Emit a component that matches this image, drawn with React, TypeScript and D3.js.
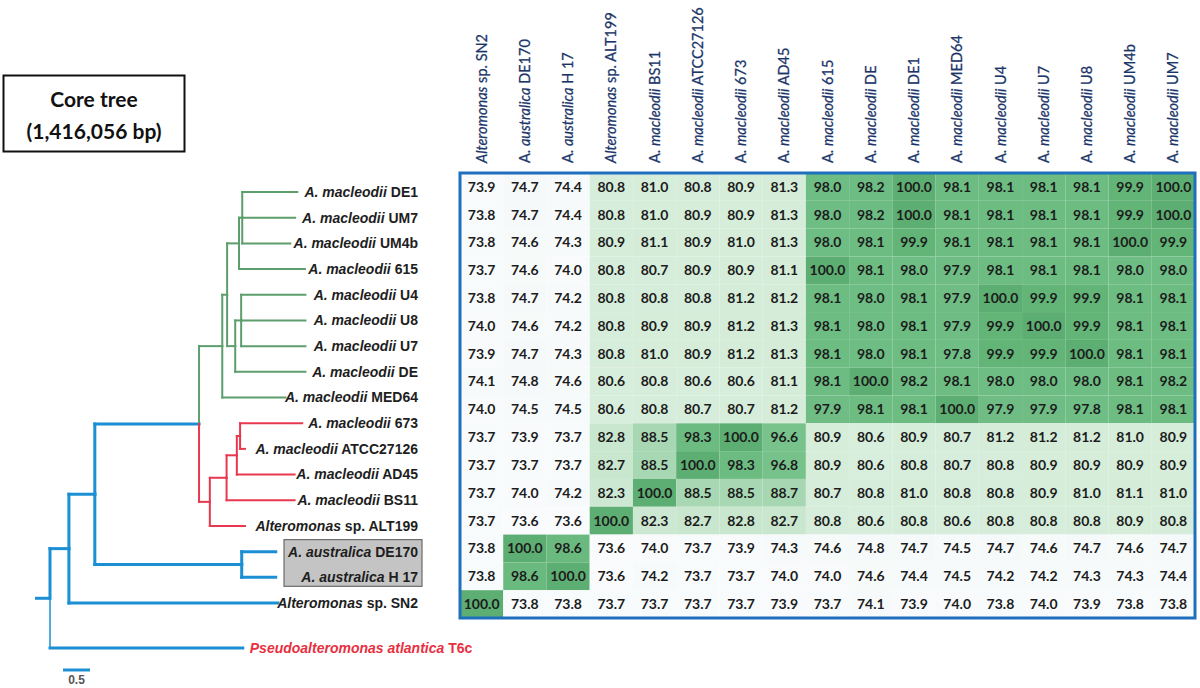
import React from "react";
import * as d3 from "d3";

// ---------- DATA ----------
const colNames = [
  "Alteromonas sp. SN2", "A. australica DE170", "A. australica H 17", "Alteromonas sp. ALT199",
  "A. macleodii BS11", "A. macleodii ATCC27126", "A. macleodii 673", "A. macleodii AD45",
  "A. macleodii 615", "A. macleodii DE", "A. macleodii DE1", "A. macleodii MED64",
  "A. macleodii U4", "A. macleodii U7", "A. macleodii U8", "A. macleodii UM4b", "A. macleodii UM7",
];

const rowNames = [
  "DE1", "UM7", "UM4b", "615", "U4", "U8", "U7", "DE", "MED64",
  "673", "ATCC27126", "BS11", "ALT199", "DE170", "H 17", "SN2",
];

const rowDE1 = [73.9, 74.7, 74.4, 80.8, 81.0, 80.8, 80.9, 81.3, 98.0, 98.2, 100.0, 98.1, 98.1, 98.1, 98.1, 99.9, 100.0];
const rowUM7 = [73.8, 74.7, 74.4, 80.8, 81.0, 80.9, 80.9, 81.3, 98.0, 98.2, 100.0, 98.1, 98.1, 98.1, 98.1, 99.9, 100.0];
const rowUM4b = [73.8, 74.6, 74.3, 80.9, 81.1, 80.9, 81.0, 81.3, 98.0, 98.1, 99.9, 98.1, 98.1, 98.1, 98.1, 100.0, 99.9];
const row615 = [73.7, 74.6, 74.0, 80.8, 80.7, 80.9, 80.9, 81.1, 100.0, 98.1, 98.0, 97.9, 98.1, 98.1, 98.1, 98.0, 98.0];
const rowU4 = [73.8, 74.7, 74.2, 80.8, 80.8, 80.8, 81.2, 81.2, 98.1, 98.0, 98.1, 97.9, 100.0, 99.9, 99.9, 98.1, 98.1];
const rowU8 = [74.0, 74.6, 74.2, 80.8, 80.9, 80.9, 81.2, 81.3, 98.1, 98.0, 98.1, 97.9, 99.9, 100.0, 99.9, 98.1, 98.1];
const rowU7 = [73.9, 74.7, 74.3, 80.8, 81.0, 80.9, 81.2, 81.3, 98.1, 98.0, 98.1, 97.8, 99.9, 99.9, 100.0, 98.1, 98.1];
const rowDE = [74.1, 74.8, 74.6, 80.6, 80.8, 80.6, 80.6, 81.1, 98.1, 100.0, 98.2, 98.1, 98.0, 98.0, 98.0, 98.1, 98.2];
const rowMED64 = [74.0, 74.5, 74.5, 80.6, 80.8, 80.7, 80.7, 81.2, 97.9, 98.1, 98.1, 100.0, 97.9, 97.9, 97.8, 98.1, 98.1];
const row673 = [73.7, 73.9, 73.7, 82.8, 88.5, 98.3, 100.0, 96.6, 80.9, 80.6, 80.9, 80.7, 81.2, 81.2, 81.2, 81.0, 80.9];
const rowATCC = [73.7, 73.7, 73.7, 82.7, 88.5, 100.0, 98.3, 96.8, 80.9, 80.6, 80.8, 80.7, 80.8, 80.9, 80.9, 80.9, 80.9];
const rowBS11 = [73.7, 74.0, 74.2, 82.3, 100.0, 88.5, 88.5, 88.7, 80.7, 80.8, 81.0, 80.8, 80.8, 80.9, 81.0, 81.1, 81.0];
const rowALT199 = [73.7, 73.6, 73.6, 100.0, 82.3, 82.7, 82.8, 82.7, 80.8, 80.6, 80.8, 80.6, 80.8, 80.8, 80.8, 80.9, 80.8];
const rowDE170 = [73.8, 100.0, 98.6, 73.6, 74.0, 73.7, 73.9, 74.3, 74.6, 74.8, 74.7, 74.5, 74.7, 74.6, 74.7, 74.6, 74.7];
const rowH17 = [73.8, 98.6, 100.0, 73.6, 74.2, 73.7, 73.7, 74.0, 74.0, 74.6, 74.4, 74.5, 74.2, 74.2, 74.3, 74.3, 74.4];
const rowSN2 = [100.0, 73.8, 73.8, 73.7, 73.7, 73.7, 73.7, 73.9, 73.7, 74.1, 73.9, 74.0, 73.8, 74.0, 73.9, 73.8, 73.8];

const matrix = [rowDE1, rowUM7, rowUM4b, row615, rowU4, rowU8, rowU7, rowDE, rowMED64,
  row673, rowATCC, rowBS11, rowALT199, rowDE170, rowH17, rowSN2];

// tree with branch lengths (substitutions per site, scale bar 0.5)
type TNode = { name: string; len: number; clade?: string; children?: TNode[] };
const treeData: TNode = {
  name: "root", len: 0, children: [
    {
      name: "X", len: 0.35, children: [
        {
          name: "Y", len: 0.48, children: [
            {
              name: "Z", len: 1.93, children: [
                {
                  name: "G", len: 0.43, clade: "green", children: [
                    {
                      name: "G2", len: 0.09, children: [
                        {
                          name: "n2", len: 0.22, children: [
                            {
                              name: "n1", len: 0.06, children: [
                                { name: "A. macleodii DE1", len: 1.02 },
                                { name: "A. macleodii UM7", len: 0.98 },
                                { name: "A. macleodii UM4b", len: 0.89 },
                              ]
                            },
                            { name: "A. macleodii 615", len: 1.22 },
                          ]
                        },
                        {
                          name: "U1", len: 0.15, children: [
                            {
                              name: "U2", len: 0.11, children: [
                                { name: "A. macleodii U4", len: 1.19 },
                                { name: "A. macleodii U8", len: 1.19 },
                                { name: "A. macleodii U7", len: 1.19 },
                              ]
                            },
                            { name: "A. macleodii DE", len: 1.3 },
                          ]
                        },
                      ]
                    },
                    { name: "A. macleodii MED64", len: 1.17 },
                  ]
                },
                {
                  name: "R", len: 0.2, clade: "red", children: [
                    {
                      name: "R2", len: 0.31, children: [
                        {
                          name: "R3", len: 0.19, children: [
                            {
                              name: "R4", len: 0.06, children: [
                                { name: "A. macleodii 673", len: 1.15 },
                                { name: "A. macleodii ATCC27126", len: 0.09 },
                              ]
                            },
                            { name: "A. macleodii AD45", len: 1.07 },
                          ]
                        },
                        { name: "A. macleodii BS11", len: 1.26 },
                      ]
                    },
                    { name: "Alteromonas sp. ALT199", len: 0.65 },
                  ]
                },
              ]
            },
            {
              name: "Aus", len: 2.72, children: [
                { name: "A. australica DE170", len: 0.63 },
                { name: "A. australica H 17", len: 0.63 },
              ]
            },
          ]
        },
        { name: "Alteromonas sp. SN2", len: 3.87 },
      ]
    },
    { name: "Pseudoalteromonas atlantica T6c", len: 3.57, clade: "outgroup" },
  ]
};

const boxedLeaves = ["A. australica DE170", "A. australica H 17"];
const scaleBarValue = 0.5;
const titleLines = ["Core tree", "(1,416,056 bp)"];

// ---------- LAYOUT / STYLE ----------
const W = 1200, H = 688;
const heat = { x0: 460, x1: 1195, y0: 173, y1: 618 };
const treeX0 = 50, pxPerUnit = 54;
const leafY0 = 192, leafY1 = 603;
const labelRight = 418;
const cladeColor: Record<string, string> = { blue: "#1a8fd4", green: "#5c9e6c", red: "#e8384f", outgroup: "#1a8fd4" };
const cladeWidth: Record<string, number> = { blue: 3, green: 2, red: 2, outgroup: 3 };

function splitTreeName(n: string): [string, string] {
  if (n.startsWith("Alteromonas sp.")) return ["Alteromonas", n.slice(11)];
  const parts = n.split(" ");
  return [parts[0] + " " + parts[1], " " + parts.slice(2).join(" ")];
}
function splitHeaderName(n: string): [string, string, string] {
  if (n.startsWith("Alteromonas sp.")) return ["", "Alteromonas", n.slice(11)];
  const parts = n.split(" ");
  return [parts[0] + " ", parts[1], " " + parts.slice(2).join(" ")];
}

export default function App() {
  const xBand = d3.scaleBand<string>().domain(colNames).range([heat.x0, heat.x1]);
  const yBand = d3.scaleBand<string>().domain(rowNames).range([heat.y0, heat.y1]);
  const color = d3.scaleLinear<string>()
    .domain([73.5, 75, 80.5, 81.5, 83, 88.5, 96.5, 98, 99.9, 100])
    .range(["#f9fbfd", "#f5f9f8", "#d8eedc", "#d3ebd7", "#c7e5cd", "#a8d8b3", "#79c38d", "#6ebd84", "#62b477", "#5dae72"])
    .clamp(true);

  // tree layout
  const root = d3.hierarchy<TNode>(treeData, (d) => d.children);
  root.each((n: any) => {
    n.dist = n.parent ? n.parent.dist + n.data.len : 0;
    n.clade = n.data.clade || (n.parent ? n.parent.clade : "blue");
  });
  const leaves = root.leaves();
  const ty = d3.scaleLinear().domain([0, 16]).range([leafY0, leafY1]);
  const tx = d3.scaleLinear().domain([0, 1]).range([treeX0, treeX0 + pxPerUnit]);
  leaves.forEach((l: any, i: number) => {
    l.y = l.data.clade === "outgroup" ? ty(17.75) : ty(i);
  });
  root.eachAfter((n: any) => {
    if (n.children) n.y = (n.children[0].y + n.children[n.children.length - 1].y) / 2;
  });

  const segs: { x1: number; y1: number; x2: number; y2: number; c: string }[] = [];
  root.each((n: any) => {
    if (!n.parent) return;
    const px = tx(n.parent.dist);
    segs.push({ x1: px, y1: n.y, x2: tx(n.dist), y2: n.y, c: n.clade });
    segs.push({ x1: px, y1: n.parent.y, x2: px, y2: n.y, c: n.clade });
  });

  const rootAny: any = root;
  const boxed = leaves.filter((l: any) => boxedLeaves.includes(l.data.name)) as any[];

  return (
    <svg width={W} height={H} style={{ position: "absolute", left: 0, top: 0, background: "#fff" }}>
      {/* title box */}
      <rect x={3.5} y={75.5} width={181} height={76} fill="#fff" stroke="#111" strokeWidth={2} />
      {titleLines.map((t, i) => (
        <text key={t} x={94} y={107 + i * 32} textAnchor="middle" fontFamily="Lato, sans-serif"
          fontWeight={700} fontSize={21} fill="#111">{t}</text>
      ))}

      {/* tree */}
      <line x1={tx(0) - 15} x2={tx(0)} y1={rootAny.y} y2={rootAny.y} stroke={cladeColor.blue} strokeWidth={3} />
      {segs.map((s, i) => (
        <line key={i} x1={s.x1} y1={s.y1} x2={s.x2} y2={s.y2} stroke={cladeColor[s.c]}
          strokeWidth={s.x1 === s.x2 && s.c === "outgroup" ? 1.5 : cladeWidth[s.c]} strokeLinecap="square" />
      ))}
      {boxed.length > 0 && (
        <rect x={284} y={boxed[0].y - 12} width={138} height={boxed[boxed.length - 1].y - boxed[0].y + 21}
          fill="#c4c4c4" stroke="#6a6a6a" strokeWidth={1.2} />
      )}
      {leaves.map((l: any) => {
        const [it, rest] = splitTreeName(l.data.name);
        const out = l.data.clade === "outgroup";
        return (
          <text key={l.data.name} x={out ? tx(l.dist) + 7 : labelRight} y={l.y} dy="0.35em"
            textAnchor={out ? "start" : "end"} fontFamily="'Liberation Sans', Arial, sans-serif"
            fontWeight={700} fontSize={14} fill={out ? "#e8303f" : "#1e1e1e"}>
            <tspan fontStyle="italic">{it}</tspan>
            <tspan>{rest}</tspan>
          </text>
        );
      })}
      {/* scale bar */}
      <line x1={63} x2={63 + pxPerUnit * scaleBarValue} y1={670} y2={670} stroke={cladeColor.blue} strokeWidth={3} />
      <text x={63 + (pxPerUnit * scaleBarValue) / 2} y={684} textAnchor="middle"
        fontFamily="'Liberation Sans', Arial, sans-serif" fontWeight={700} fontSize={12} fill="#555">{scaleBarValue}</text>

      {/* heatmap */}
      {matrix.map((row, ri) =>
        row.map((v, ci) => (
          <rect key={`${ri}-${ci}`} x={xBand(colNames[ci])} y={yBand(rowNames[ri])}
            width={xBand.bandwidth()} height={yBand.bandwidth()} fill={color(v)} />
        ))
      )}
      {matrix.map((row, ri) =>
        row.map((v, ci) => (
          <text key={`t${ri}-${ci}`} x={(xBand(colNames[ci]) as number) + xBand.bandwidth() / 2}
            y={(yBand(rowNames[ri]) as number) + yBand.bandwidth() / 2} dy="0.35em" textAnchor="middle"
            fontFamily="Lato, sans-serif" fontWeight={700} fontSize={14} fill="#1c1c1c">{v.toFixed(1)}</text>
        ))
      )}
      <rect x={heat.x0} y={heat.y0} width={heat.x1 - heat.x0} height={heat.y1 - heat.y0}
        fill="none" stroke="#1f6fbf" strokeWidth={3} />

      {/* column headers */}
      {colNames.map((c) => {
        const [a, it, rest] = splitHeaderName(c);
        const cx = (xBand(c) as number) + xBand.bandwidth() / 2;
        return (
          <text key={c} transform={`translate(${cx},163) rotate(-90)`} dy="0.35em"
            fontFamily="Lato, sans-serif" fontSize={14.5} fill="#1a3569" stroke="#1a3569" strokeWidth={0.25}>
            {a && <tspan>{a}</tspan>}
            <tspan fontStyle="italic">{it}</tspan>
            <tspan>{rest}</tspan>
          </text>
        );
      })}
    </svg>
  );
}
